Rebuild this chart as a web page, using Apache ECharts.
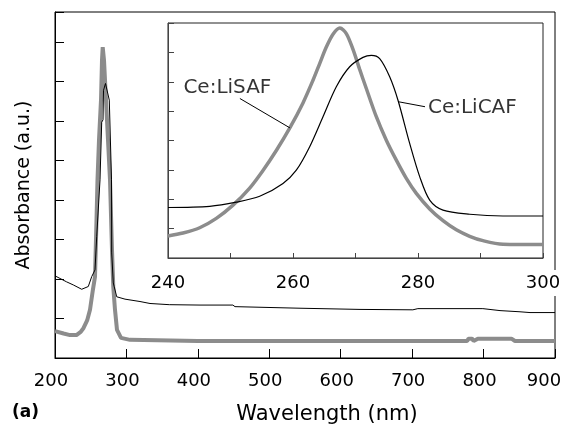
<!DOCTYPE html>
<html><head><meta charset="utf-8">
<script src="https://cdn.jsdelivr.net/npm/echarts@6/dist/echarts.min.js"></script>
<style>html,body{margin:0;padding:0;background:#fff}#c{width:566px;height:428px}</style>
</head><body><div id="c"></div>
<script>
// Main panel: wavelength (nm), absorbance (a.u.)
const licafMain = [[200,2.08],[216,1.93],[225.6,1.85],[237.4,1.74],[246.6,1.81],[251.4,2.06],[256,2.23],[258.4,3.07],[263,4.51],[265.4,5.97],[267.2,6.03],[267.9,6.78],[270.7,6.95],[272.8,6.91],[276,6.53],[279.1,4.51],[279.4,2.66],[281.6,1.90],[286.4,1.55],[298,1.49],[319,1.43],[333,1.38],[360,1.35],[403,1.34],[449,1.34],[452,1.30],[543,1.26],[627,1.23],[701,1.22],[708,1.25],[799,1.25],[823,1.20],[851,1.17],[865,1.15],[900,1.15]];
const lisafMain = [[200,0.68],[212,0.62],[221,0.58],[230,0.58],[236,0.66],[240,0.76],[245,0.95],[249,1.22],[253,1.72],[256,2.06],[258.1,3.49],[259.5,4.51],[261.6,5.52],[264.4,6.53],[265.8,7.54],[266.8,7.87],[268.6,7.54],[271.4,6.53],[274.2,5.52],[277,4.51],[279.8,2.73],[281.6,1.80],[284,1.22],[286.8,0.71],[292.4,0.51],[305,0.46],[400,0.43],[600,0.43],[777,0.43],[779,0.49],[784,0.49],[786,0.43],[788,0.43],[792,0.49],[839,0.49],[844,0.43],[900,0.43]];
// Inset panel
const licafInset = [[240,1.72],[246.67,1.76],[250.93,1.90],[254.67,2.10],[258.4,2.54],[260.53,2.99],[262.67,3.79],[264.8,4.81],[266.93,5.83],[269.07,6.51],[271.2,6.83],[272.53,6.90],[273.87,6.79],[275.47,6.17],[276.8,5.37],[278.67,3.90],[280.27,2.77],[281.87,1.97],[284.0,1.63],[288.27,1.49],[293.6,1.43],[300,1.43]];
const lisafInset = [[240,0.75],[242.4,0.85],[245.07,1.03],[247.73,1.35],[250.4,1.80],[253.07,2.38],[255.2,2.98],[257.33,3.66],[259.47,4.42],[261.6,5.28],[263.2,6.05],[264.27,6.62],[265.33,7.18],[266.4,7.62],[267.5,7.83],[268.53,7.64],[269.6,7.10],[270.67,6.42],[271.73,5.77],[273.33,4.81],[274.93,4.01],[276.53,3.33],[278.13,2.71],[279.73,2.20],[281.87,1.67],[284.0,1.27],[286.13,0.96],[288.27,0.74],[290.4,0.59],[293.6,0.47],[300,0.46]];
const lisafLeader = [[251.5,5.43],[259.5,4.43]];
const licafLeader = [[276.85,5.32],[281.12,5.15]];
const annotations = [[249.5,5.78,'Ce:LiSAF'],[288.7,5.12,'Ce:LiCAF']];
const xTitle = 'Wavelength (nm)';
const yTitle = 'Absorbance (a.u.)';
const panelTag = '(a)';

const FONT = 'DejaVu Sans';
const GRAY = '#8c8c8c';
const chart = echarts.init(document.getElementById('c'));
chart.setOption({
  animation: false,
  backgroundColor: '#fff',
  grid: [
    {left: 55, top: 12, right: 11, bottom: 70, show: true, borderColor: '#000', borderWidth: 1, containLabel: false, outerBoundsMode: 'none'},
    {left: 168, top: 23, right: 23, bottom: 170, show: true, borderColor: '#222', borderWidth: 1, backgroundColor: '#fff', containLabel: false, outerBoundsMode: 'none'}
  ],
  xAxis: [
    {gridIndex: 0, type: 'value', min: 200, max: 900, interval: 100,
     axisLine: {lineStyle: {color: '#000', width: 1}},
     axisTick: {inside: true, length: 9, lineStyle: {color: '#000'}},
     splitLine: {show: false},
     axisLabel: {fontFamily: FONT, fontSize: 18, color: '#000', margin: 14, padding: [0, 8, 0, 0],
       formatter: v => (v === 900 ? '{r|900}' : String(v)),
       rich: {r: {fontFamily: FONT, fontSize: 18, color: '#000', padding: [0, 14, 0, 0]}}},
     name: xTitle, nameLocation: 'middle', nameGap: 46,
     nameTextStyle: {fontFamily: FONT, fontSize: 21, color: '#000', padding: [0, 0, 0, 44]}},
    {gridIndex: 1, type: 'value', min: 240, max: 300, interval: 10,
     axisLine: {lineStyle: {color: '#444', width: 1}},
     axisTick: {inside: true, length: 5, lineStyle: {color: '#444'}},
     splitLine: {show: false},
     axisLabel: {fontFamily: FONT, fontSize: 18, color: '#000', margin: 12,
       backgroundColor: '#fff', padding: [4, 3, 4, 3],
       formatter: v => (v % 20 === 0 ? String(v) : '')}}
  ],
  yAxis: [
    {gridIndex: 0, type: 'value', min: 0, max: 8.76, interval: 1,
     axisLine: {show: true, lineStyle: {color: '#000', width: 1}},
     axisTick: {show: true, inside: true, length: 9, lineStyle: {color: '#000'}},
     splitLine: {show: false}, axisLabel: {show: false},
     name: yTitle, nameLocation: 'middle', nameRotate: 90, nameGap: 21,
     nameTextStyle: {fontFamily: FONT, fontSize: 19, color: '#000'}},
    {gridIndex: 1, type: 'value', min: 0, max: 8, interval: 1,
     axisLine: {show: true, lineStyle: {color: '#444', width: 1}},
     axisTick: {show: true, inside: true, length: 6, lineStyle: {color: '#444'}},
     splitLine: {show: false}, axisLabel: {show: false}}
  ],
  graphic: [
    {type: 'text', left: 12, top: 404, style: {text: panelTag, font: 'bold 17px "DejaVu Sans"', fill: '#000'}}
  ],
  series: [
    {type: 'line', xAxisIndex: 0, yAxisIndex: 0, data: licafMain, showSymbol: false, lineStyle: {color: '#000', width: 1}, z: 3},
    {type: 'line', xAxisIndex: 0, yAxisIndex: 0, data: lisafMain, showSymbol: false, lineStyle: {color: GRAY, width: 4}, z: 2},
    {type: 'line', xAxisIndex: 1, yAxisIndex: 1, data: licafInset, showSymbol: false, smooth: 0.3, lineStyle: {color: '#000', width: 1.2}, z: 3},
    {type: 'line', xAxisIndex: 1, yAxisIndex: 1, data: lisafInset, showSymbol: false, smooth: 0.3, lineStyle: {color: GRAY, width: 3.5}, z: 2},
    {type: 'line', xAxisIndex: 1, yAxisIndex: 1, data: lisafLeader, showSymbol: false, lineStyle: {color: '#000', width: 1}, z: 4},
    {type: 'line', xAxisIndex: 1, yAxisIndex: 1, data: licafLeader, showSymbol: false, lineStyle: {color: '#000', width: 1}, z: 4},
    {type: 'scatter', xAxisIndex: 1, yAxisIndex: 1, data: annotations, symbolSize: 0, z: 5, silent: true,
     label: {show: true, position: 'inside', formatter: p => p.data[2], fontFamily: FONT, fontSize: 20, color: '#000', textBorderWidth: 0}}
  ]
});
</script></body></html>
